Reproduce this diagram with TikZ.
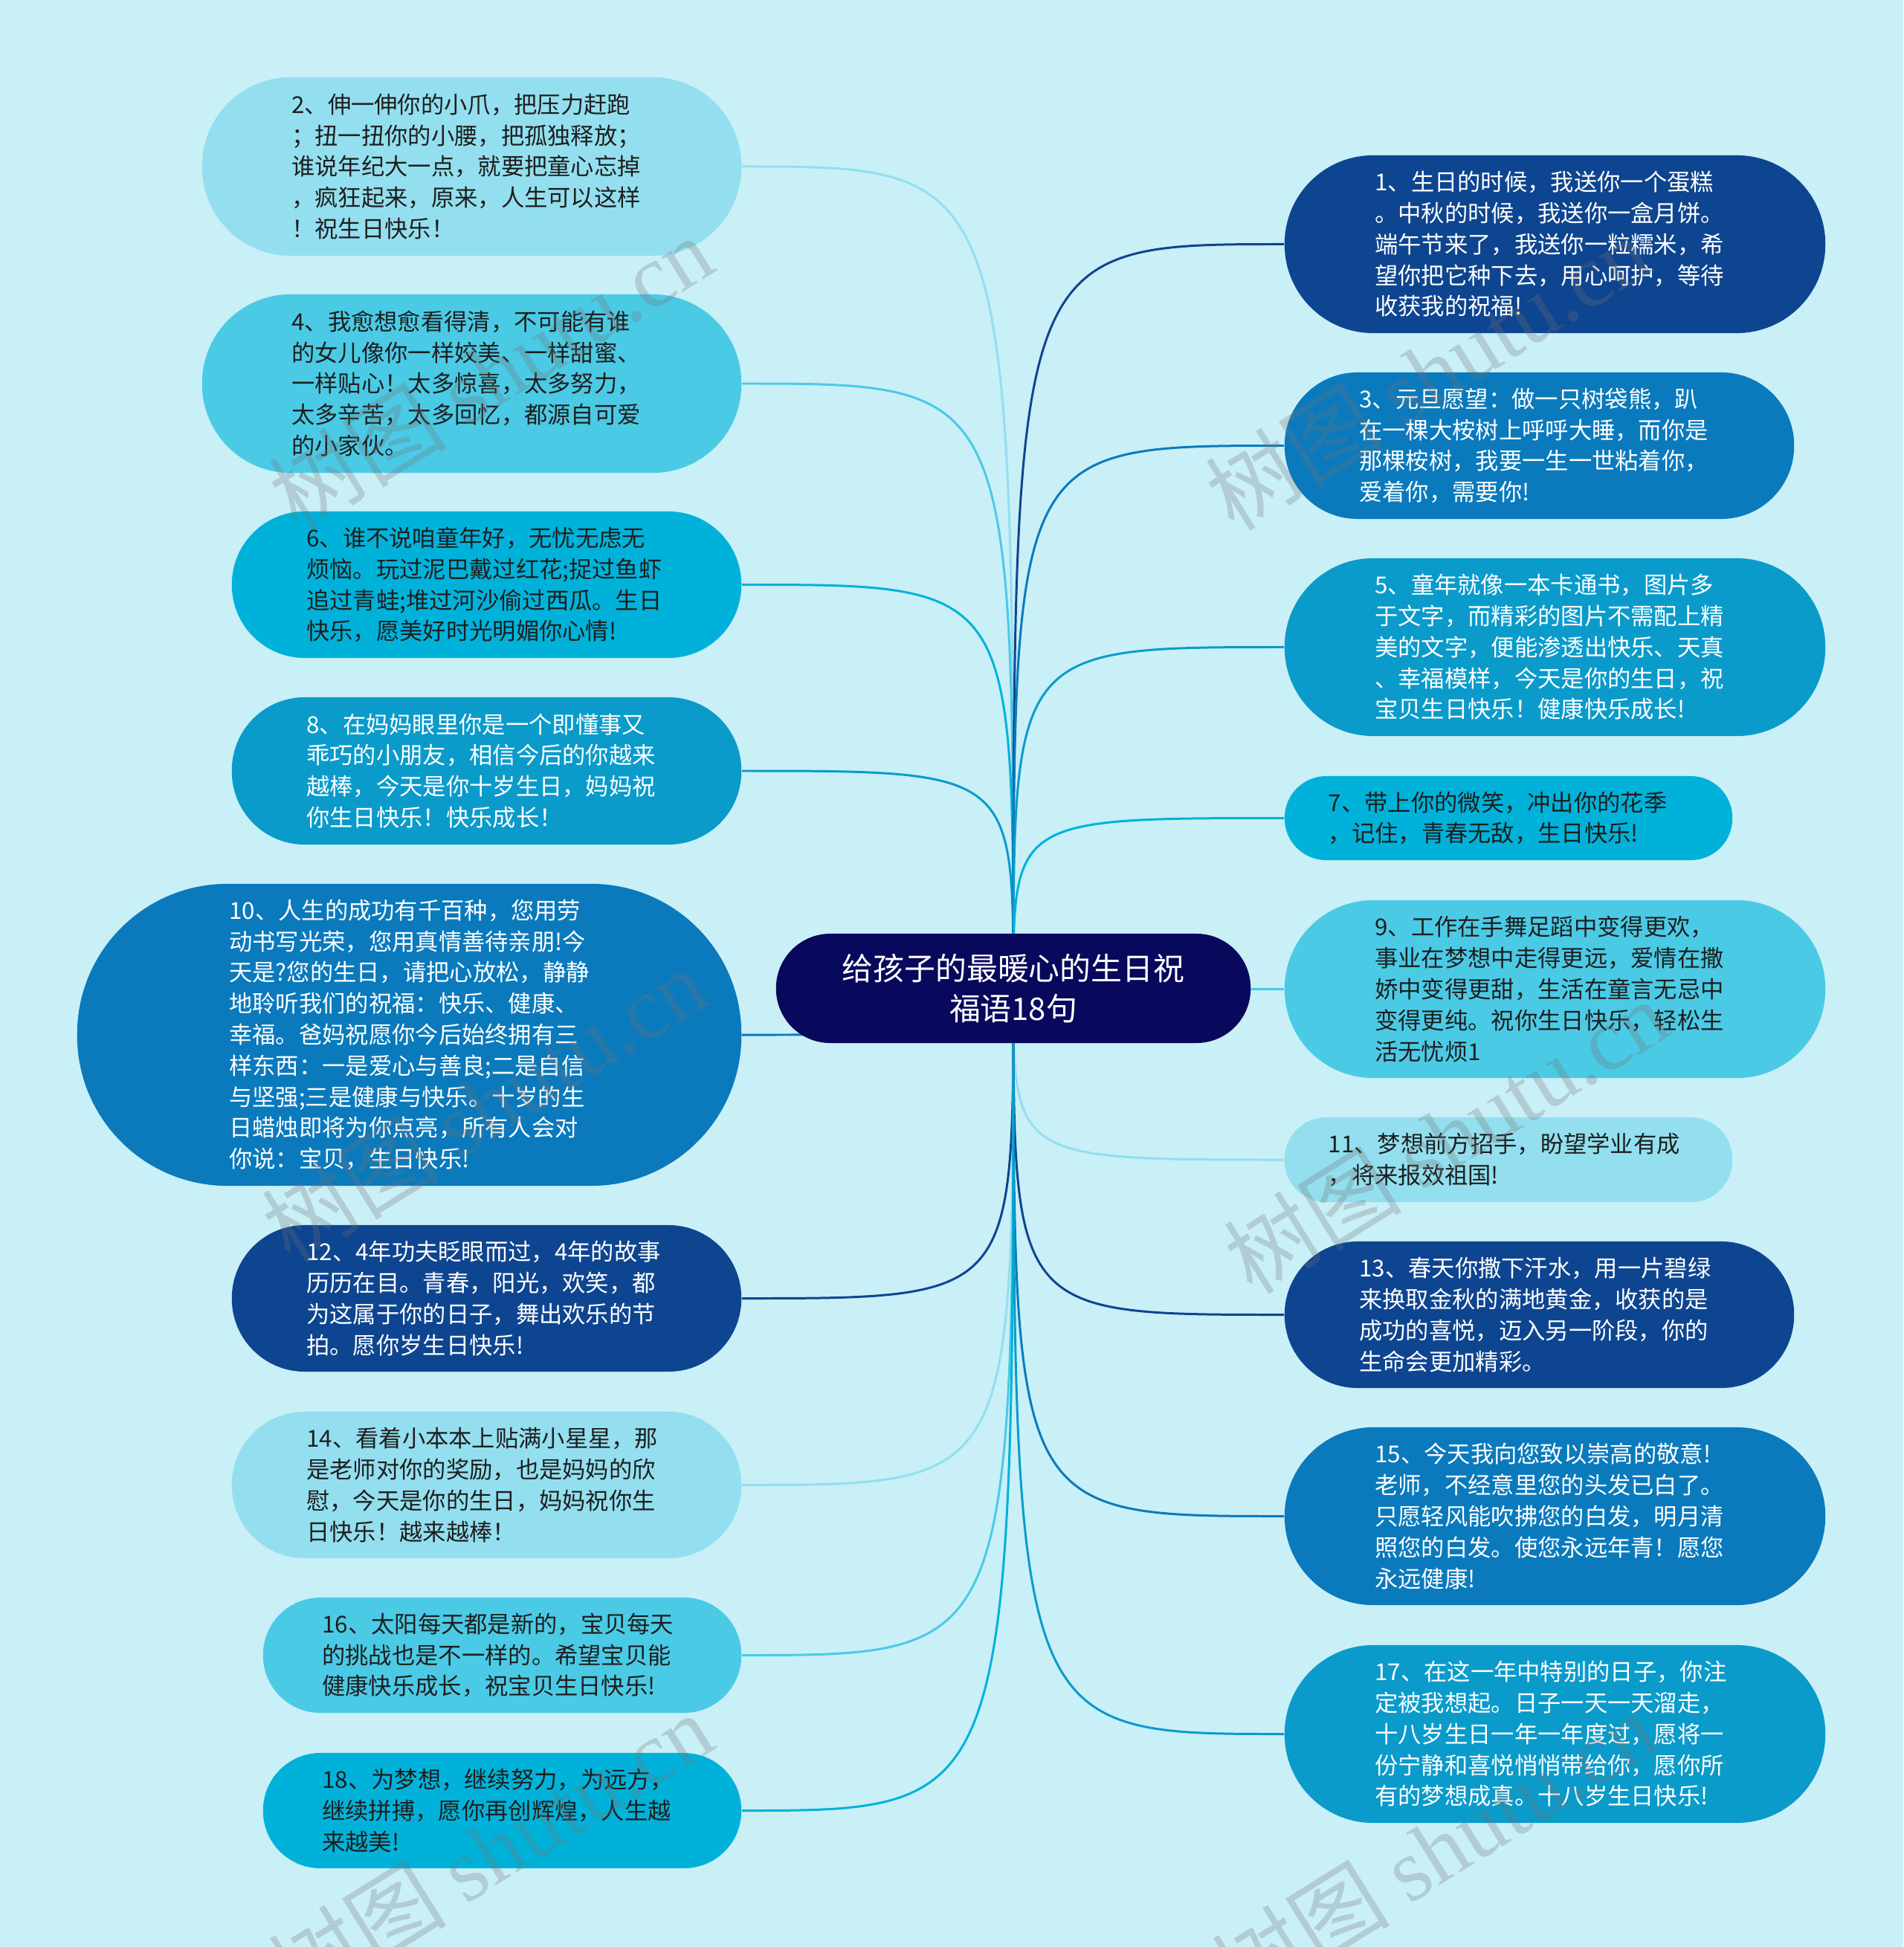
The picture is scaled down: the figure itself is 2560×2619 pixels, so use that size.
\documentclass[tikz,border=0pt]{standalone}
\usepackage{fontspec}
\setmainfont{Noto Sans CJK SC}
\newfontfamily\wmlatin{Liberation Serif}
\definecolor{bgc}{HTML}{C9EFF7}
\definecolor{cRoot}{HTML}{08085C}
\definecolor{cDark}{HTML}{0E4590}
\definecolor{cBlue}{HTML}{0A7ABD}
\definecolor{cMid}{HTML}{0A9BCB}
\definecolor{cCyan}{HTML}{00B2D9}
\definecolor{cMedL}{HTML}{4BCAE5}
\definecolor{cLight}{HTML}{93DFEF}
\definecolor{tDark}{HTML}{1E1E1E}
\pgfdeclarelayer{back}
\pgfdeclarelayer{edges}
\pgfsetlayers{back,edges,main}
\begin{document}
\begin{tikzpicture}[x=0.01cm,y=-0.01cm,
  leaf/.style={inner sep=0pt, align=left, text width=4.84cm, font=\fontsize{8.9pt}{11.88pt}\selectfont},
  onlight/.style={text=tDark},
  ondark/.style={text=white},
  rootbox/.style={inner sep=0pt, align=center, fill=cRoot, text=white,
    font=\fontsize{11.9pt}{15.2pt}\selectfont,
    minimum width=6.38cm, minimum height=1.47cm, rounded corners=0.73cm},
  conn/.style={line width=0.85pt},
  wm/.style={rotate=32, text=black!55, text opacity=0.28, font=\fontsize{34pt}{34pt}\selectfont}
]
\begin{pgfonlayer}{back}
\fill[bgc] (0,0) rectangle (2560,2619);
\end{pgfonlayer}
\useasboundingbox (0,0) rectangle (2560,2619);

\node[rootbox] (root) at (1363,1329.5) {给孩子的最暖心的生日祝\\福语18句};

% left column
\node[leaf, onlight, fill=cLight, minimum width=7.25cm, minimum height=2.40cm, rounded corners=1.19cm] (n2) at (634.5,224)
 {2、伸一伸你的小爪，把压力赶跑\\；扭一扭你的小腰，把孤独释放；\\谁说年纪大一点，就要把童心忘掉\\，疯狂起来，原来，人生可以这样\\！祝生日快乐！};
\node[leaf, onlight, fill=cMedL, minimum width=7.25cm, minimum height=2.40cm, rounded corners=1.19cm] (n4) at (634.5,516)
 {4、我愈想愈看得清，不可能有谁\\的女儿像你一样姣美、一样甜蜜、\\一样贴心！太多惊喜，太多努力，\\太多辛苦，太多回忆，都源自可爱\\的小家伙。};
\node[leaf, onlight, fill=cCyan, minimum width=6.85cm, minimum height=1.97cm, rounded corners=0.98cm] (n6) at (654.5,786.5)
 {6、谁不说咱童年好，无忧无虑无\\烦恼。玩过泥巴戴过红花;捉过鱼虾\\追过青蛙;堆过河沙偷过西瓜。生日\\快乐，愿美好时光明媚你心情!};
\node[leaf, ondark, fill=cMid, minimum width=6.85cm, minimum height=1.98cm, rounded corners=0.98cm] (n8) at (654.5,1037)
 {8、在妈妈眼里你是一个即懂事又\\乖巧的小朋友，相信今后的你越来\\越棒，今天是你十岁生日，妈妈祝\\你生日快乐！快乐成长！};
\node[leaf, ondark, fill=cBlue, minimum width=8.93cm, minimum height=4.06cm, rounded corners=2.02cm] (n10) at (550.5,1392)
 {10、人生的成功有千百种，您用劳\\动书写光荣，您用真情善待亲朋!今\\天是?您的生日，请把心放松，静静\\地聆听我们的祝福：快乐、健康、\\幸福。爸妈祝愿你今后始终拥有三\\样东西：一是爱心与善良;二是自信\\与坚强;三是健康与快乐。十岁的生\\日蜡烛即将为你点亮，所有人会对\\你说：宝贝，生日快乐!};
\node[leaf, ondark, fill=cDark, minimum width=6.85cm, minimum height=1.97cm, rounded corners=0.98cm] (n12) at (654.5,1746.5)
 {12、4年功夫眨眼而过，4年的故事\\历历在目。青春，阳光，欢笑，都\\为这属于你的日子，舞出欢乐的节\\拍。愿你岁生日快乐!};
\node[leaf, onlight, fill=cLight, minimum width=6.85cm, minimum height=1.97cm, rounded corners=0.98cm] (n14) at (654.5,1997.5)
 {14、看着小本本上贴满小星星，那\\是老师对你的奖励，也是妈妈的欣\\慰，今天是你的生日，妈妈祝你生\\日快乐！越来越棒！};
\node[leaf, onlight, fill=cMedL, minimum width=6.43cm, minimum height=1.55cm, rounded corners=0.77cm] (n16) at (675.5,2226.5)
 {16、太阳每天都是新的，宝贝每天\\的挑战也是不一样的。希望宝贝能\\健康快乐成长，祝宝贝生日快乐!};
\node[leaf, onlight, fill=cCyan, minimum width=6.43cm, minimum height=1.55cm, rounded corners=0.77cm] (n18) at (675.5,2435.5)
 {18、为梦想，继续努力，为远方，\\继续拼搏，愿你再创辉煌，人生越\\来越美!};

% right column
\node[leaf, ondark, fill=cDark, minimum width=7.27cm, minimum height=2.39cm, rounded corners=1.19cm] (n1) at (2091.5,328.5)
 {1、生日的时候，我送你一个蛋糕\\。中秋的时候，我送你一盒月饼。\\端午节来了，我送你一粒糯米，希\\望你把它种下去，用心呵护，等待\\收获我的祝福!};
\node[leaf, ondark, fill=cBlue, minimum width=6.85cm, minimum height=1.97cm, rounded corners=0.98cm] (n3) at (2070.5,599.5)
 {3、元旦愿望：做一只树袋熊，趴\\在一棵大桉树上呼呼大睡，而你是\\那棵桉树，我要一生一世粘着你，\\爱着你，需要你!};
\node[leaf, ondark, fill=cMid, minimum width=7.27cm, minimum height=2.39cm, rounded corners=1.19cm] (n5) at (2091.5,870.5)
 {5、童年就像一本卡通书，图片多\\于文字，而精彩的图片不需配上精\\美的文字，便能渗透出快乐、天真\\、幸福模样，今天是你的生日，祝\\宝贝生日快乐！健康快乐成长!};
\node[leaf, onlight, fill=cCyan, minimum width=6.02cm, minimum height=1.13cm, rounded corners=0.56cm] (n7) at (2029,1100.5)
 {7、带上你的微笑，冲出你的花季\\，记住，青春无敌，生日快乐!};
\node[leaf, onlight, fill=cMedL, minimum width=7.27cm, minimum height=2.39cm, rounded corners=1.19cm] (n9) at (2091.5,1330.5)
 {9、工作在手舞足蹈中变得更欢，\\事业在梦想中走得更远，爱情在撒\\娇中变得更甜，生活在童言无忌中\\变得更纯。祝你生日快乐，轻松生\\活无忧烦1};
\node[leaf, onlight, fill=cLight, minimum width=6.02cm, minimum height=1.14cm, rounded corners=0.56cm] (n11) at (2029,1560)
 {11、梦想前方招手，盼望学业有成\\，将来报效祖国!};
\node[leaf, ondark, fill=cDark, minimum width=6.85cm, minimum height=1.97cm, rounded corners=0.98cm] (n13) at (2070.5,1768.5)
 {13、春天你撒下汗水，用一片碧绿\\来换取金秋的满地黄金，收获的是\\成功的喜悦，迈入另一阶段，你的\\生命会更加精彩。};
\node[leaf, ondark, fill=cBlue, minimum width=7.27cm, minimum height=2.39cm, rounded corners=1.19cm] (n15) at (2091.5,2039.5)
 {15、今天我向您致以崇高的敬意!\\老师，不经意里您的头发已白了。\\只愿轻风能吹拂您的白发，明月清\\照您的白发。使您永远年青！愿您\\永远健康!};
\node[leaf, ondark, fill=cMid, minimum width=7.27cm, minimum height=2.39cm, rounded corners=1.19cm] (n17) at (2091.5,2332.5)
 {17、在这一年中特别的日子，你注\\定被我想起。日子一天一天溜走，\\十八岁生日一年一年度过，愿将一\\份宁静和喜悦悄悄带给你，愿你所\\有的梦想成真。十八岁生日快乐!};

\begin{pgfonlayer}{edges}
\draw[conn, cLight] (root.center) .. controls (root.center |- n2.east) .. (n2.east);
\draw[conn, cMedL] (root.center) .. controls (root.center |- n4.east) .. (n4.east);
\draw[conn, cCyan] (root.center) .. controls (root.center |- n6.east) .. (n6.east);
\draw[conn, cMid] (root.center) .. controls (root.center |- n8.east) .. (n8.east);
\draw[conn, cBlue] (root.center) .. controls (root.center |- n10.east) .. (n10.east);
\draw[conn, cDark] (root.center) .. controls (root.center |- n12.east) .. (n12.east);
\draw[conn, cLight] (root.center) .. controls (root.center |- n14.east) .. (n14.east);
\draw[conn, cMedL] (root.center) .. controls (root.center |- n16.east) .. (n16.east);
\draw[conn, cCyan] (root.center) .. controls (root.center |- n18.east) .. (n18.east);
\draw[conn, cDark] (root.center) .. controls (root.center |- n1.west) .. (n1.west);
\draw[conn, cBlue] (root.center) .. controls (root.center |- n3.west) .. (n3.west);
\draw[conn, cMid] (root.center) .. controls (root.center |- n5.west) .. (n5.west);
\draw[conn, cCyan] (root.center) .. controls (root.center |- n7.west) .. (n7.west);
\draw[conn, cMedL] (root.center) .. controls (root.center |- n9.west) .. (n9.west);
\draw[conn, cLight] (root.center) .. controls (root.center |- n11.west) .. (n11.west);
\draw[conn, cDark] (root.center) .. controls (root.center |- n13.west) .. (n13.west);
\draw[conn, cBlue] (root.center) .. controls (root.center |- n15.west) .. (n15.west);
\draw[conn, cMid] (root.center) .. controls (root.center |- n17.west) .. (n17.west);
\end{pgfonlayer}

% watermarks
\node[wm] (w1) at (660,501) {树图 {\wmlatin shutu.cn}};
\node[wm] (w2) at (1920,501) {树图 {\wmlatin shutu.cn}};
\node[wm] (w3) at (651,1486) {树图 {\wmlatin shutu.cn}};
\node[wm] (w4) at (1945,1528) {树图 {\wmlatin shutu.cn}};
\node[wm] (w5) at (660,2488) {树图 {\wmlatin shutu.cn}};
\node[wm] (w6) at (1929,2488) {树图 {\wmlatin shutu.cn}};
\end{tikzpicture}
\end{document}
